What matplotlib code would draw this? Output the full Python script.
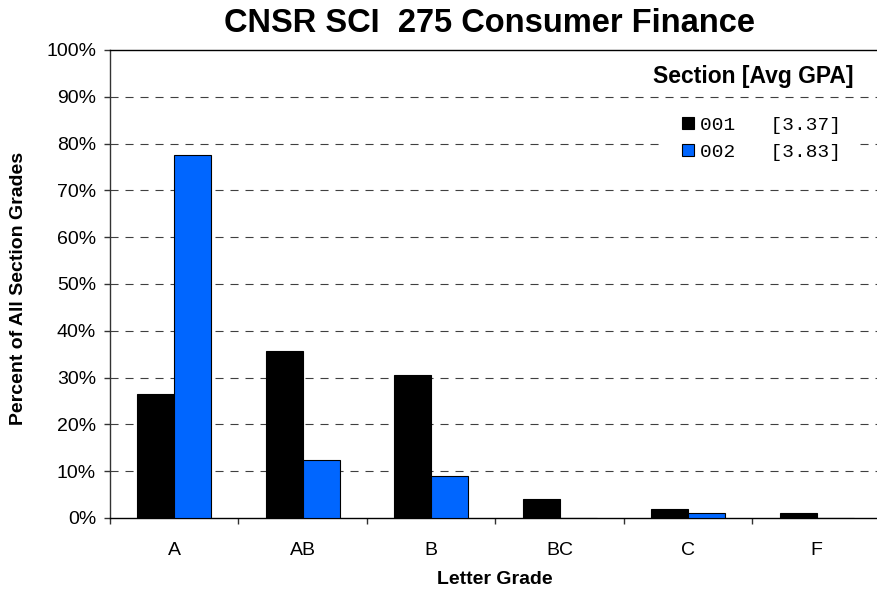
import numpy as np
import matplotlib
matplotlib.use("Agg")
import matplotlib.pyplot as plt
from matplotlib.lines import Line2D
from matplotlib.font_manager import FontProperties

grades = ["A", "AB", "B", "BC", "C", "F"]
sections = ["001", "002"]
avg_gpa = ["3.37", "3.83"]
pct_001 = [26.5, 35.7, 30.6, 4.1, 2.0, 1.0]
pct_002 = [77.5, 12.4, 9.0, 0.0, 1.1, 0.0]
colors = ["#000000", "#0066FF"]
y_ticks = [0, 10, 20, 30, 40, 50, 60, 70, 80, 90, 100]

plt.rcParams["font.family"] = ["Liberation Sans", "DejaVu Sans"]
plt.rcParams["lines.scale_dashes"] = False

W, H = 878, 595
fig = plt.figure(figsize=(W / 100, H / 100), dpi=100)
ax = fig.add_axes([110 / W, (H - 518) / H, (881 - 110) / W, (518 - 50) / H])

x = np.arange(len(grades)) + 0.5
bw = 0.286
for i, vals in enumerate([pct_001, pct_002]):
    ax.bar(x + (i - 0.5) * bw, vals, width=bw, color=colors[i],
           edgecolor="black", linewidth=0.8, zorder=3)

# dashed gridlines, solid line at the top
for v in y_ticks[1:-1]:
    ax.axhline(v, color="#404040", linewidth=0.8,
               linestyle=(0, (5.8, 5.0)), zorder=1)

ax.set_xlim(0, len(grades))
ax.set_ylim(0, 100)
ax.set_yticks(y_ticks)
ax.set_yticklabels([f"{v}%" for v in y_ticks])
ax.set_xticks(np.arange(len(grades) + 1))
ax.set_xticklabels([])
ax.set_xticks(x, minor=True)
ax.set_xticklabels(grades, minor=True)
ax.tick_params(axis="both", which="major", direction="out", length=4,
               width=1, color="#333333", labelsize=14)
ax.tick_params(axis="x", which="minor", length=0, labelsize=14, pad=17)
ax.tick_params(axis="y", pad=6)
for s in ax.spines.values():
    s.set_color("black")
    s.set_linewidth(1)
ax.spines["left"].set_color("#333333")

fig.text(490 / W, 1 - 23 / H, "CNSR SCI  275 Consumer Finance",
         ha="center", va="center", fontsize=23.5, fontweight="bold")
fig.text(495 / W, 1 - 580 / H, "Letter Grade", ha="center", va="center",
         fontsize=14, fontweight="bold")
fig.text(19 / W, 1 - 288 / H, "Percent of All Section Grades", ha="center",
         va="center", rotation=90, fontsize=14, fontweight="bold")

# legend: section number and average GPA
fig.text(854 / W, 1 - 76 / H, "Section [Avg GPA]", ha="right", va="center",
         fontsize=16.5, fontweight="bold")
handles = [Line2D([], [], marker="s", linestyle="none", markersize=9,
                  markerfacecolor=c, markeredgecolor="black",
                  markeredgewidth=0.8) for c in colors]
labels = [f"{s}   [{g}]" for s, g in zip(sections, avg_gpa)]
leg = ax.legend(handles, labels, loc="upper left",
                bbox_to_anchor=(663 / W, 1 - 101 / H),
                bbox_transform=fig.transFigure, borderaxespad=0,
                prop=FontProperties(family="Liberation Mono", size=14),
                frameon=True, fancybox=False, framealpha=1,
                facecolor="white", edgecolor="none", borderpad=0.8,
                handlelength=1.0, handletextpad=0.1, labelspacing=0.45)
leg.set_zorder(5)

fig.savefig("out.png", dpi=100)
